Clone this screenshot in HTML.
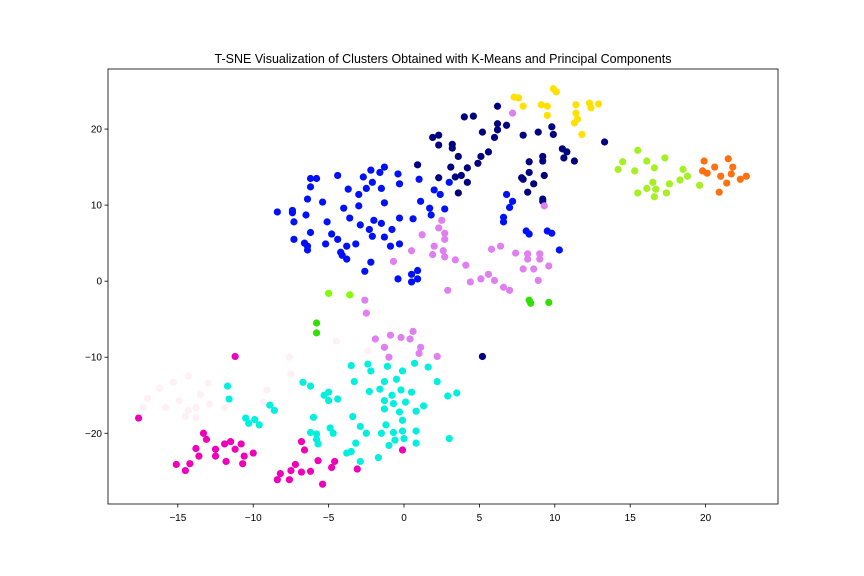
<!DOCTYPE html>
<html><head><meta charset="utf-8"><style>
body{margin:0;background:#fff;}
svg{display:block;font-family:"Liberation Sans","DejaVu Sans",sans-serif;}
</style></head><body>
<svg id="chart" width="864" height="576" viewBox="0 0 864 576">
<rect width="864" height="576" fill="#fff"/>
<text x="443" y="63" text-anchor="middle" font-size="12.5" fill="#000">T-SNE Visualization of Clusters Obtained with K-Means and Principal Components</text>
<g id="marks"></g>
<rect x="108" y="69" width="670" height="435" fill="none" stroke="#000" stroke-width="0.8"/>
<g id="axes"></g>
</svg>
<script>
const xTicks=[-15,-10,-5,0,5,10,15,20];
const yTicks=[-20,-10,0,10,20];
const navyX=[6.2,4.0,4.6,6.2,6.8,6.2,5.2,6.0,7.9,8.9,9.8,9.9,1.9,2.3,2.3,3.2,3.2,3.6,5.6,5.1,4.9,3.1,4.2,3.8,3.4,0.9,2.3,4.2,3.6,10.5,10.8,10.6,11.3,9.2,9.2,8.3,8.3,9.3,7.8,7.9,8.6,8.2,9.2,9.2,5.2,13.3];
const navyY=[23.0,21.6,21.7,20.7,20.5,19.9,19.6,18.9,19.2,19.6,20.3,19.3,18.9,19.2,17.9,18.0,17.5,16.4,17.0,16.4,15.5,15.0,14.9,13.9,13.7,15.3,13.6,13.0,11.6,17.4,17.0,16.2,15.8,16.4,15.8,15.7,14.3,13.9,13.6,13.4,12.8,11.7,10.8,10.5,-9.9,18.3];
const blueX=[-8.4,-7.4,-7.4,-7.3,-7.3,-6.6,-6.4,-6.4,-6.2,-6.5,-6.4,-6.2,-6.2,-5.8,-5.4,-5.1,-5.2,-4.8,-4.4,-4.2,-4.1,-3.8,-3.8,-4.4,-4.0,-3.7,-3.6,-3.2,-2.9,-3.0,-3.0,-2.7,-2.5,-2.2,-2.1,-2.3,-2.1,-2.0,-2.2,-2.6,-1.6,-1.3,-1.5,-1.5,-1.3,-1.3,-0.8,-0.9,-0.4,-0.3,-0.3,-0.3,-0.4,0.5,0.5,0.9,0.9,0.6,1.0,1.1,1.7,1.8,2.0,2.4,2.7,3.0,6.8,7.2,7.0,6.6,6.6,8.1,8.3,9.5,9.8,10.3];
const blueY=[9.1,9.3,9.0,7.8,5.5,5.0,4.6,4.1,6.4,8.7,10.8,12.4,13.5,13.5,10.4,7.8,4.9,6.2,5.5,3.8,3.4,4.6,2.9,13.9,9.6,12.1,8.3,4.9,7.4,9.9,11.4,13.7,12.2,14.6,13.0,6.8,5.9,8.0,2.5,1.3,14.3,15.0,12.2,7.6,10.3,5.8,6.8,4.6,14.1,12.8,8.3,4.9,0.3,0.9,-0.1,1.4,0.3,8.2,13.4,10.5,9.6,8.7,12.0,11.4,9.5,13.0,11.4,10.5,9.7,8.4,7.8,6.6,6.2,6.6,6.3,4.1];
const yellowX=[7.3,7.6,7.9,9.1,9.5,9.5,9.9,10.1,11.4,11.4,11.5,11.8,12.3,12.4,12.9,11.3];
const yellowY=[24.2,24.1,23.0,23.2,23.0,21.8,25.3,24.9,23.2,22.1,21.3,19.3,23.4,22.8,23.3,20.8];
const violetX=[7.2,9.3,2.5,2.3,2.7,2.7,1.2,2.0,1.9,2.6,2.7,0.5,-0.7,3.4,4.1,5.8,6.4,7.4,8.2,8.2,9.0,9.0,9.6,7.9,8.6,8.9,5.6,5.1,6.0,4.4,6.6,7.0,2.9,-2.6,-2.5,-1.9,-0.9,-0.2,0.6,0.4,-1.3,-1.0,1.1,1.0,2.2];
const violetY=[22.1,9.9,8.0,7.0,6.3,5.5,6.1,4.6,3.5,4.0,3.2,4.0,2.6,2.8,2.1,4.2,4.6,3.7,3.6,2.9,3.6,2.9,2.0,1.6,1.6,0.1,0.9,0.3,0.1,-0.1,-0.8,-1.2,-1.2,-2.5,-4.2,-7.6,-7.1,-7.4,-6.6,-7.6,-8.7,-10.0,-8.7,-9.5,-9.9];
const limeX=[-5.0,-3.6];
const limeY=[-1.6,-1.8];
const greenX=[-5.8,-5.8,8.3,8.4,9.6];
const greenY=[-5.5,-6.8,-2.5,-2.9,-2.8];
const cyanX=[-11.7,-11.6,-10.5,-10.3,-9.9,-9.6,-8.9,-8.6,-6.7,-6.2,-5.3,-5.0,-5.0,-4.4,-6.0,-6.2,-5.8,-5.8,-5.7,-4.9,-4.7,-3.5,-3.3,-3.4,-2.9,-2.5,-3.2,-3.5,-3.8,-2.9,-1.7,-2.4,-2.2,-2.3,-1.6,-1.1,-1.3,-0.5,-0.1,-1.3,-0.8,-0.7,-0.2,0.1,0.5,-1.3,-0.3,-0.1,-1.2,-1.5,-0.7,-0.1,0.0,-0.6,-1.0,0.8,0.8,0.7,1.6,1.3,0.8,2.2,2.9,3.5,3.0];
const cyanY=[-13.8,-15.5,-18.0,-18.7,-18.2,-18.9,-16.3,-17.0,-13.3,-13.8,-15.0,-14.6,-15.7,-15.5,-17.9,-19.9,-20.1,-20.8,-21.4,-19.3,-20.0,-11.1,-13.2,-17.8,-19.1,-20.0,-21.3,-22.4,-22.6,-23.7,-23.2,-10.9,-11.8,-14.5,-14.2,-11.2,-13.2,-12.9,-11.8,-15.7,-15.0,-16.1,-14.3,-15.9,-14.6,-16.8,-17.2,-18.3,-18.9,-20.0,-19.9,-19.7,-20.7,-20.9,-21.6,-19.7,-21.3,-10.8,-11.3,-16.4,-17.1,-13.2,-15.1,-14.7,-20.7];
const pinkX=[-11.2,-17.6,-13.3,-13.1,-13.8,-13.6,-15.1,-14.5,-14.2,-12.5,-12.5,-11.9,-11.5,-11.2,-11.8,-10.8,-10.6,-10.7,-10.0,-6.8,-6.6,-5.7,-4.6,-4.8,-7.2,-7.5,-6.8,-6.2,-8.2,-8.4,-7.6,-5.4,-3.1,-0.1];
const pinkY=[-9.9,-18.0,-20.0,-20.8,-22.0,-23.0,-24.1,-24.9,-24.0,-22.1,-23.0,-21.4,-21.1,-22.1,-23.7,-21.4,-23.0,-24.0,-22.6,-21.1,-22.2,-23.6,-23.7,-24.5,-24.1,-24.9,-25.1,-25.0,-25.3,-26.1,-26.1,-26.7,-24.7,-22.2];
const paleX=[-17.0,-17.3,-16.2,-15.3,-14.3,-14.9,-15.8,-14.5,-14.3,-13.8,-13.8,-13.5,-13.0,-12.9,-11.9,-9.1,-9.3,-7.6,-7.5,-4.5,-2.4];
const paleY=[-15.4,-16.6,-14.1,-13.3,-12.5,-15.7,-16.6,-17.8,-17.0,-16.6,-17.9,-14.9,-13.4,-16.2,-16.6,-14.3,-15.9,-10.0,-12.2,-7.9,-9.2];
const chartX=[15.5,14.5,14.2,15.3,16.1,16.6,17.3,16.5,16.1,16.7,15.5,16.6,17.4,17.6,18.3,18.5,18.8,19.6];
const chartY=[17.2,15.7,14.7,14.5,15.8,14.9,16.2,13.0,12.2,12.1,11.6,11.1,11.6,12.8,13.3,14.7,13.8,12.6];
const orangeX=[19.9,19.8,20.1,20.6,21.5,21.8,21.7,21.0,21.4,20.9,22.3,22.7];
const orangeY=[15.8,14.5,14.2,15.0,16.1,15.0,14.1,13.8,12.9,11.7,13.4,13.8];

const L=108,R=778,T=69,B=504,X0=-19.63,X1=24.8,Y0=-29.3,Y1=27.9;
function sx(v){return L+(v-X0)/(X1-X0)*(R-L);}
function sy(v){return B-(v-Y0)/(Y1-Y0)*(B-T);}
const NS='http://www.w3.org/2000/svg';
const marks=document.getElementById('marks');
const series=[
 ['pale',paleX,paleY,'#fff0f5'],
 ['navy',navyX,navyY,'#000080'],
 ['blue',blueX,blueY,'#0010f8'],
 ['yellow',yellowX,yellowY,'#ffe000'],
 ['violet',violetX,violetY,'#e07ff0'],
 ['lime',limeX,limeY,'#80ff00'],
 ['green',greenX,greenY,'#30e000'],
 ['cyan',cyanX,cyanY,'#00f0e0'],
 ['pink',pinkX,pinkY,'#f000b8'],
 ['chartreuse',chartX,chartY,'#a5f020'],
 ['orange',orangeX,orangeY,'#ff7010']
];
series.forEach(s=>{
 const g=document.createElementNS(NS,'g');
 
 
 for(let i=0;i<s[1].length;i++){
  const c=document.createElementNS(NS,'circle');
  
  
  c.setAttribute('cx',sx(s[1][i]));c.setAttribute('cy',sy(s[2][i]));
  c.setAttribute('r',3.6);c.setAttribute('fill',s[3]);
  g.appendChild(c);
 }
 marks.appendChild(g);
});
const axes=document.getElementById('axes');
xTicks.forEach(t=>{
 const x=sx(t);
 const l=document.createElementNS(NS,'line');
 
 
 l.setAttribute('x1',x);l.setAttribute('x2',x);l.setAttribute('y1',B);l.setAttribute('y2',B+3.5);l.setAttribute('stroke','#000');l.setAttribute('stroke-width','0.8');
 axes.appendChild(l);
 const tx=document.createElementNS(NS,'text');
 
 
 tx.setAttribute('x',x);tx.setAttribute('y',B+17);tx.setAttribute('text-anchor','middle');tx.setAttribute('font-size','10');
 tx.textContent=t<0?'\u2212'+(-t):String(t);
 axes.appendChild(tx);
});
yTicks.forEach(t=>{
 const y=sy(t);
 const l=document.createElementNS(NS,'line');
 
 
 l.setAttribute('x1',L-3.5);l.setAttribute('x2',L);l.setAttribute('y1',y);l.setAttribute('y2',y);l.setAttribute('stroke','#000');l.setAttribute('stroke-width','0.8');
 axes.appendChild(l);
 const tx=document.createElementNS(NS,'text');
 
 
 tx.setAttribute('x',L-6);tx.setAttribute('y',y+3.5);tx.setAttribute('text-anchor','end');tx.setAttribute('font-size','10');
 tx.textContent=t<0?'\u2212'+(-t):String(t);
 axes.appendChild(tx);
});
</script>
</body></html>
